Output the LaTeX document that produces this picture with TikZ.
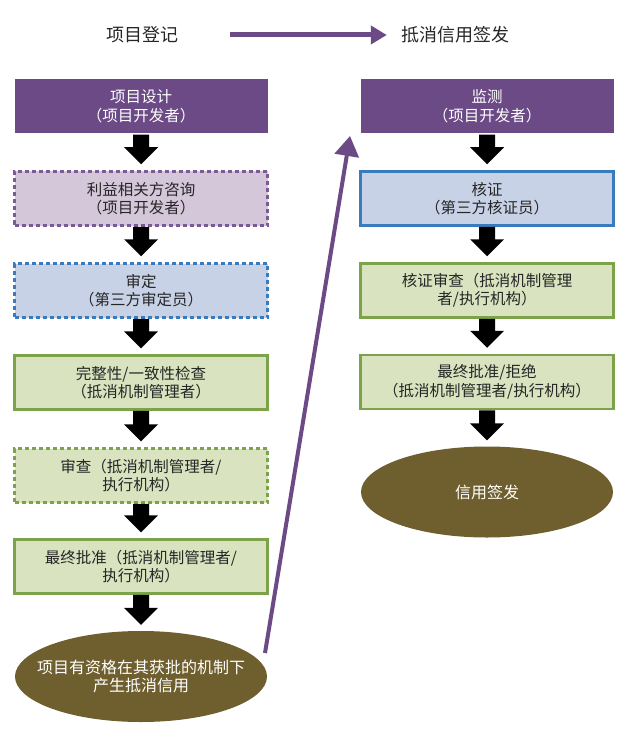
\documentclass[tikz,border=0pt]{standalone}
\usepackage{fontspec}
\setmainfont{Noto Sans CJK SC}
\usetikzlibrary{arrows.meta,calc,shapes.geometric}
\definecolor{purp}{HTML}{6B4A86}
\definecolor{purpline}{HTML}{7A5A97}
\definecolor{purpfill}{HTML}{D5C7DA}
\definecolor{bluefill}{HTML}{C8D2E7}
\definecolor{blueline}{HTML}{3A7BBE}
\definecolor{greenfill}{HTML}{D9E3BF}
\definecolor{greenline}{HTML}{7DA34A}
\definecolor{olive}{HTML}{6F5F2E}
\definecolor{txt}{HTML}{262626}
\newcommand\blkarrow[2]{\fill[black] let \p1=(#1.south), \p2=(#2.north) in
  (\x1-8pt,\y1) -- (\x1-8pt,\y2+23pt) -- (\x1-17pt,\y2+23pt) -- (\x1,\y2+6pt)
  -- (\x1+17pt,\y2+23pt) -- (\x1+8pt,\y2+23pt) -- (\x1+8pt,\y1) -- cycle;}
\begin{document}
\begin{tikzpicture}[x=1pt,y=-1pt,
  box/.style={rectangle, minimum width=253pt, minimum height=54pt, align=center,
    font=\fontsize{15.5}{18.5}\selectfont, text=txt, line width=2.5pt, inner sep=0pt},
  headbox/.style={box, fill=purp, draw=none, text=white},
  purpdash/.style={box, fill=purpfill, draw=purpline, dash pattern=on 4pt off 3pt},
  bluedash/.style={box, fill=bluefill, draw=blueline, dash pattern=on 4pt off 3pt},
  blueb/.style={box, fill=bluefill, draw=blueline},
  greenb/.style={box, fill=greenfill, draw=greenline},
  greendash/.style={box, fill=greenfill, draw=greenline, dash pattern=on 4pt off 3pt},
  ovaltext/.style={rectangle, draw=none, text=white, align=center,
    font=\fontsize{16}{18}\selectfont, inner sep=0pt},
  hdr/.style={font=\fontsize{18}{22}\selectfont, text=txt, inner sep=0pt},
  parrow/.style={purp, -{Triangle[length=20pt,width=24pt]}}
]
\useasboundingbox (0,0) rectangle (622,730);

% header
\node[hdr] (h1) at (142,35) {项目登记};
\node[hdr] (h2) at (455,35) {抵消信用签发};
\draw[parrow, line width=5pt, -{Triangle[length=16pt,width=18pt]}, shorten <=52pt, shorten >=14pt] (h1.east) -- (h2.west);

% left column
\node[headbox] (b1) at (141,106.5) {项目设计\\（项目开发者）};
\node[purpdash] (b2) at (141,198.5) {利益相关方咨询\\（项目开发者）};
\node[bluedash] (b3) at (141,290.5) {审定\\（第三方审定员）};
\node[greenb] (b4) at (141,382.5) {完整性/一致性检查\\（抵消机制管理者）};
\node[greendash] (b5) at (141,475.5) {审查（抵消机制管理者/\\执行机构）};
\node[greenb] (b6) at (141,566.5) {最终批准（抵消机制管理者/\\执行机构）};
\fill[olive] (141,676.5) ellipse [x radius=126pt, y radius=45.5pt];
\node[ovaltext, minimum width=252pt, minimum height=91pt] (e1) at (141,676.5) {项目有资格在其获批的机制下\\产生抵消信用};

% right column
\node[headbox] (r1) at (487,106.5) {监测\\（项目开发者）};
\node[blueb] (r2) at (487,198.5) {核证\\（第三方核证员）};
\node[greenb] (r3) at (487,290.5) {核证审查（抵消机制管理\\者/执行机构）};
\node[greenb] (r4) at (487,382) {最终批准/拒绝\\（抵消机制管理者/执行机构）};
\fill[olive] (487,492) ellipse [x radius=126pt, y radius=45.5pt];
\node[ovaltext, minimum width=252pt, minimum height=91pt] (e2) at (487,492) {信用签发};

% black arrows
\blkarrow{b1}{b2}
\blkarrow{b2}{b3}
\blkarrow{b3}{b4}
\blkarrow{b4}{b5}
\blkarrow{b5}{b6}
\blkarrow{b6}{e1}
\blkarrow{r1}{r2}
\blkarrow{r2}{r3}
\blkarrow{r3}{r4}
\blkarrow{r4}{e2}

% long purple arrow
\coordinate (pa) at (265,653);
\coordinate (pb) at (350,136);
\draw[parrow, line width=4pt] (pa) -- (pb);
\end{tikzpicture}
\end{document}
